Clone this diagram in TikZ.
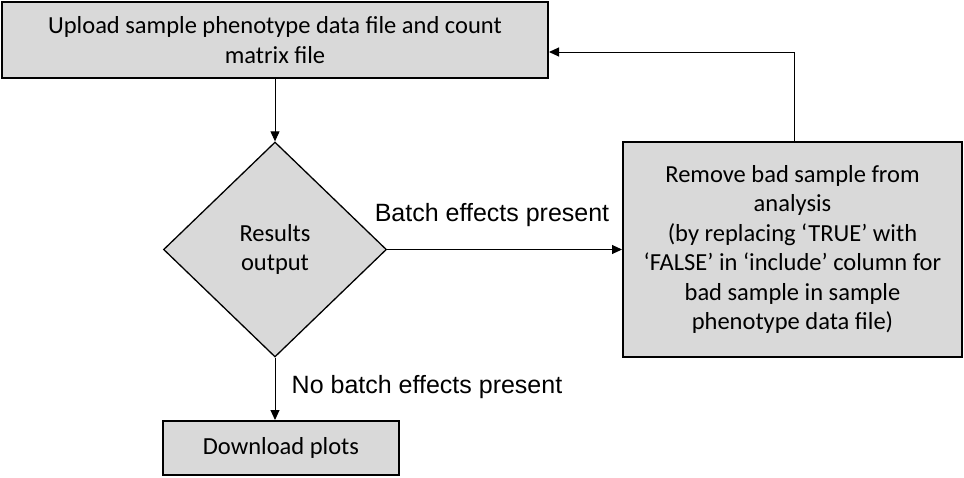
\documentclass[tikz,border=0pt]{standalone}
\usepackage{fontspec}
\setmainfont{Carlito}
\newfontfamily\lblfont{Liberation Sans}
\usetikzlibrary{shapes.geometric,arrows.meta}
\definecolor{boxgray}{HTML}{D9D9D9}
\tikzset{
  procbox/.style={draw=black, fill=boxgray, line width=2pt, inner sep=0pt, align=center,
    font=\fontsize{24.5}{29.5}\selectfont},
  decbox/.style={diamond, draw=black, fill=boxgray, line width=1.3pt, inner sep=0pt, align=center,
    font=\fontsize{24.5}{29.5}\selectfont},
  arr/.style={draw=black, line width=1pt, -{Triangle[length=10pt,width=9pt]}},
  lbl/.style={font=\lblfont\fontsize{25}{30}\selectfont, inner sep=0pt}
}
\begin{document}
\begin{tikzpicture}[x=1pt,y=-1pt]
\useasboundingbox (0,0) rectangle (964,477);
\node[procbox, minimum width=546pt, minimum height=76pt] (up) at (275,40)
  {Upload sample phenotype data file and count\\matrix file};
\node[decbox, minimum width=223pt, minimum height=215pt] (res) at (275,249.5)
  {Results\\output};
\node[procbox, minimum width=339pt, minimum height=215pt] (rm) at (792.5,249.5)
  {Remove bad sample from\\analysis\\(by replacing ‘TRUE’ with\\‘FALSE’ in ‘include’ column for\\bad sample in sample\\phenotype data file)};
\node[procbox, minimum width=236pt, minimum height=54pt] (dl) at (281,448)
  {Download plots};
\coordinate (fb) at (794,52);
\draw[arr] (up.south -| res.north) -- (res.north);
\draw[arr] (res.east) -- (rm.west);
\draw[arr] (res.south) -- (res.south |- dl.north);
\draw[arr] (rm.north -| fb) -- (fb) -- (up.east |- fb);
\node[lbl] (l1) at (492,215) {Batch effects present};
\node[lbl] (l2) at (427,387) {No batch effects present};
\end{tikzpicture}
\end{document}
